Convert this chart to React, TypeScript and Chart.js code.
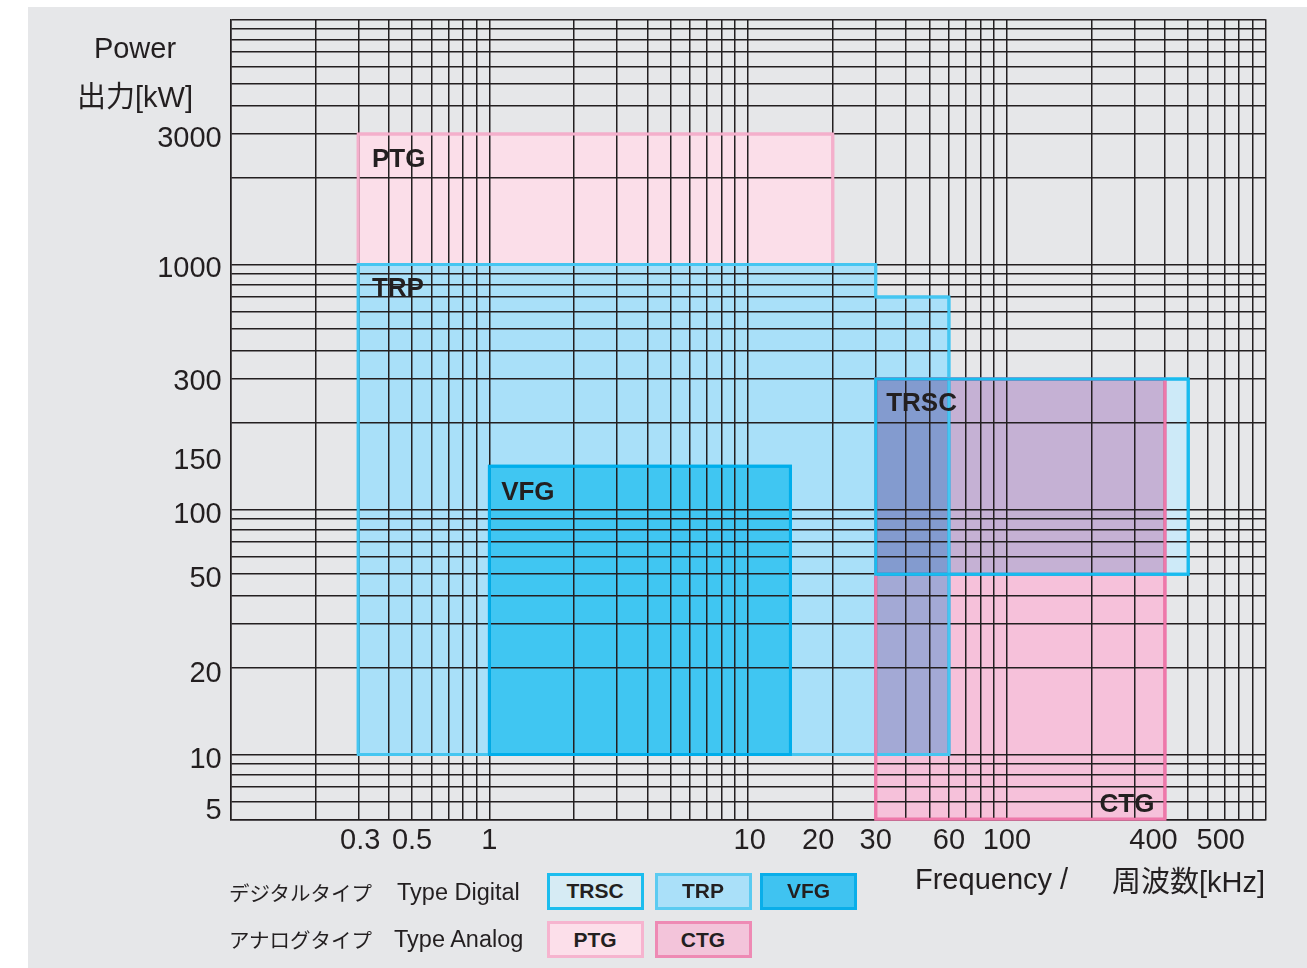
import React, { useEffect, useRef } from 'react';
import { Chart, registerables, LogarithmicScale } from 'chart.js';

// ---------------- data ----------------
const ptgFreq = [0.3, 0.3, 20, 20, 0.3];
const ptgPower = [1000, 3000, 3000, 1000, 1000];
const trpFreq = [0.3, 0.3, 30, 30, 60, 60, 0.3];
const trpPower = [10, 1000, 1000, 700, 700, 10, 10];
const vfgFreq = [1, 1, 15, 15, 1];
const vfgPower = [10, 150, 150, 10, 10];
const trscFreq = [30, 30, 500, 500, 30];
const trscPower = [50, 300, 300, 50, 50];
const ctgFreq = [30, 30, 400, 400, 30];
const ctgPower = [5, 300, 300, 5, 5];

const xTickValues = [0.3, 0.5, 1, 10, 20, 30, 60, 100, 400, 500];
const xTickLabels = ['0.3', '0.5', '1', '10', '20', '30', '60', '100', '400', '500'];
const yTickValues = [3000, 1000, 300, 150, 100, 50, 20, 10, 5];
const yTickLabels = ['3000', '1000', '300', '150', '100', '50', '20', '10', '5'];
const xMin = 0.1;
const xMax = 1000;
const yMin = 5;
const yMax = 10000;

const digitalTypes = ['TRSC', 'TRP', 'VFG'];
const analogTypes = ['PTG', 'CTG'];

// ---------------- style / layout ----------------
const FONT = '"Liberation Sans", Arial, "Noto Sans CJK JP", sans-serif';
const JP_FONT = '"Noto Sans CJK JP", "Liberation Sans", sans-serif';
const INK = '#231f20';
const BG = '#e6e7e9';
const TEXT_DY = 3; // canvas 'middle' baseline correction

// printed log-paper spacing inside one decade (positions of 1..10 as fraction of a decade)
const X_WARP = [0, 0.327, 0.493, 0.611, 0.701, 0.776, 0.841, 0.898, 0.95, 1];
const Y_WARP = [0, 0.353, 0.532, 0.648, 0.736, 0.808, 0.867, 0.916, 0.961, 1];
const WARPS: Record<string, number[]> = { x: X_WARP, y: Y_WARP };

const xLabelNudge = [2, 0, 0, 1.5, -14.5, 0, 0, 0, -11.5, 32.5];
const yLabelNudge = [2, 2, 0, -8, 2.5, 2, 2.5, 2, -11];

const COLORS: Record<string, { fill: string; border: string; legendFill: string; legendBorder: string }> = {
  PTG: { fill: '#fbdee9', border: '#f4afcb', legendFill: '#fcdfea', legendBorder: '#f6b4cf' },
  TRP: { fill: '#a9e0f9', border: '#45c6f1', legendFill: '#aae0f9', legendBorder: '#5bcbf1' },
  VFG: { fill: '#40c6f2', border: '#00aeeb', legendFill: '#3fc3f1', legendBorder: '#0aaee9' },
  TRSC: { fill: '#cdeaf8', border: '#18bcef', legendFill: '#d6ebf4', legendBorder: '#1cbdee' },
  CTG: { fill: '#f6c1da', border: '#ee78aa', legendFill: '#f3c4da', legendBorder: '#ee8ab4' },
};

function warpPos(v: number, t: number[]): number {
  if (!(v > 0)) return -Infinity;
  let e = Math.floor(Math.log10(v) + 1e-12);
  let m = v / Math.pow(10, e);
  if (m >= 10 - 1e-9) {
    e += 1;
    m /= 10;
  }
  if (m < 1) m = 1;
  const i = Math.min(8, Math.max(0, Math.floor(m + 1e-9) - 1));
  return e + t[i] + (t[i + 1] - t[i]) * (m - (i + 1));
}

function unwarp(p: number, t: number[]): number {
  const e = Math.floor(p);
  const f = p - e;
  let i = 0;
  while (i < 8 && f > t[i + 1]) i++;
  const m = i + 1 + (f - t[i]) / (t[i + 1] - t[i]);
  return m * Math.pow(10, e);
}

class PaperLogScale extends LogarithmicScale {
  static id = 'paperLog';
  static defaults = LogarithmicScale.defaults;
  getPixelForValue(value: number) {
    const t = WARPS[(this as any).id] || X_WARP;
    const a = warpPos(this.min, t);
    const b = warpPos(this.max, t);
    return this.getPixelForDecimal((warpPos(value, t) - a) / (b - a));
  }
  getValueForPixel(pixel: number) {
    const t = WARPS[(this as any).id] || X_WARP;
    const a = warpPos(this.min, t);
    const b = warpPos(this.max, t);
    return unwarp(a + this.getDecimalForPixel(pixel) * (b - a), t);
  }
}

const blendPlugin = {
  id: 'blendMode',
  beforeDatasetDraw(chart: any, args: any) {
    const ds = chart.data.datasets[args.index];
    chart.ctx.save();
    chart.ctx.globalCompositeOperation = ds.blend || 'source-over';
  },
  afterDatasetDraw(chart: any) {
    chart.ctx.restore();
  },
};

Chart.register(blendPlugin as any);
Chart.register(...registerables);
Chart.register(PaperLogScale as any);

function gridValues(min: number, max: number): number[] {
  const out: number[] = [];
  for (let e = Math.floor(Math.log10(min)); e <= Math.ceil(Math.log10(max)); e++) {
    for (let k = 1; k <= 9; k++) {
      const v = +(k * Math.pow(10, e)).toPrecision(6);
      if (v >= min * 0.9999 && v <= max * 1.0001) out.push(v);
    }
  }
  return out;
}

function makeSet(name: string, fx: number[], py: number[], order: number, blend?: string) {
  return {
    label: name,
    data: fx.map((x, i) => ({ x, y: py[i] })),
    backgroundColor: COLORS[name].fill,
    borderColor: COLORS[name].border,
    borderWidth: 3,
    borderJoinStyle: 'miter',
    borderCapStyle: 'square',
    fill: 'shape',
    pointRadius: 0,
    pointHoverRadius: 0,
    tension: 0,
    order,
    blend,
  };
}

// box label anchors: corner of each product's range
const boxLabels = [
  { name: 'PTG', fx: ptgFreq, py: ptgPower, corner: 'tl', dx: 13.7, dy: 22.7 },
  { name: 'TRP', fx: trpFreq, py: trpPower, corner: 'tl', dx: 13.7, dy: 21.7 },
  { name: 'VFG', fx: vfgFreq, py: vfgPower, corner: 'tl', dx: 11.7, dy: 24 },
  { name: 'TRSC', fx: trscFreq, py: trscPower, corner: 'tl', dx: 10.5, dy: 21.7 },
  { name: 'CTG', fx: ctgFreq, py: ctgPower, corner: 'br', dx: -10.5, dy: -17 },
];

const overlayPlugin = {
  id: 'overlay',
  afterDraw(chart: any) {
    const ctx = chart.ctx;
    const xs = chart.scales.x;
    const ys = chart.scales.y;
    const area = chart.chartArea;
    // borders on top of the grid
    const metas = chart.getSortedVisibleDatasetMetas();
    for (let i = metas.length - 1; i >= 0; i--) {
      metas[i].dataset.draw(ctx, area);
    }
    ctx.save();
    ctx.fillStyle = INK;
    ctx.textBaseline = 'middle';
    ctx.font = `29px ${FONT}`;
    ctx.textAlign = 'center';
    xTickValues.forEach((v, i) => {
      ctx.fillText(xTickLabels[i], xs.getPixelForValue(v) + xLabelNudge[i], area.bottom + 19 + TEXT_DY);
    });
    ctx.textAlign = 'right';
    yTickValues.forEach((v, i) => {
      ctx.fillText(yTickLabels[i], area.left - 9, ys.getPixelForValue(v) + yLabelNudge[i] + TEXT_DY);
    });
    ctx.font = `bold 26px ${FONT}`;
    boxLabels.forEach((b) => {
      const left = b.corner === 'tl';
      const x = left ? Math.min(...b.fx) : Math.max(...b.fx);
      const y = left ? Math.max(...b.py) : Math.min(...b.py);
      ctx.textAlign = left ? 'left' : 'right';
      ctx.fillText(b.name, xs.getPixelForValue(x) + b.dx, ys.getPixelForValue(y) + b.dy + TEXT_DY);
    });
    ctx.restore();
  },
};

function axisOptions(min: number, max: number, isX: boolean) {
  const grid = gridValues(min, max);
  return {
    type: 'paperLog',
    min,
    max,
    bounds: 'data',
    afterBuildTicks: (s: any) => {
      s.ticks = grid.map((v) => ({ value: v }));
    },
    afterFit: (s: any) => {
      if (isX) s.height = 148.7;
      else s.width = 202.7;
    },
    ticks: { display: false },
    grid: { color: INK, lineWidth: 1.5, drawTicks: false, z: 1 },
    border: { display: true, color: INK, width: 1.5, z: 1 },
  };
}

function LegendBox({ name, left, top }: { name: string; left: number; top: number }) {
  const c = COLORS[name];
  return (
    <div
      style={{
        position: 'absolute',
        left,
        top,
        width: 97,
        height: 37,
        boxSizing: 'border-box',
        border: `3px solid ${c.legendBorder}`,
        background: c.legendFill,
        display: 'flex',
        alignItems: 'center',
        justifyContent: 'center',
        font: `bold 21px ${FONT}`,
        color: INK,
      }}
    >
      {name}
    </div>
  );
}

const textBase: React.CSSProperties = {
  position: 'absolute',
  whiteSpace: 'nowrap',
  lineHeight: 1,
  color: INK,
};

export default function App() {
  const canvasRef = useRef<HTMLCanvasElement | null>(null);

  useEffect(() => {
    if (!canvasRef.current) return;
    const datasets = [
      makeSet('PTG', ptgFreq, ptgPower, 5),
      makeSet('TRP', trpFreq, trpPower, 4),
      makeSet('VFG', vfgFreq, vfgPower, 3),
      makeSet('CTG', ctgFreq, ctgPower, 2, 'multiply'),
      makeSet('TRSC', trscFreq, trscPower, 1, 'multiply'),
    ];
    const chart = new Chart(canvasRef.current, {
      type: 'line',
      data: { datasets } as any,
      options: {
        responsive: true,
        maintainAspectRatio: false,
        animation: false,
        events: [],
        layout: { padding: { left: 0, right: 41.4, top: 12.3, bottom: 0 } },
        plugins: { legend: { display: false }, tooltip: { enabled: false } },
        scales: {
          x: axisOptions(xMin, xMax, true) as any,
          y: axisOptions(yMin, yMax, false) as any,
        },
      } as any,
      plugins: [overlayPlugin as any],
    });
    return () => chart.destroy();
  }, []);

  const rowTop = [885, 932];
  const boxLefts = [518.5, 626.5, 732];
  return (
    <div
      style={{
        position: 'absolute',
        left: 28,
        top: 7,
        width: 1279,
        height: 961,
        background: BG,
        overflow: 'hidden',
        fontFamily: FONT,
      }}
    >
      <div style={{ position: 'absolute', left: 0, top: 0, width: 1279, height: 961 }}>
        <canvas ref={canvasRef} />
      </div>
      <div style={{ ...textBase, left: 107, top: 41, transform: 'translate(-50%, -50%)', font: `29px ${FONT}` }}>Power</div>
      <div style={{ ...textBase, left: 107, top: 87, transform: 'translate(-50%, -50%)', font: `29px ${FONT}` }}>
        出力[kW]
      </div>
      <div style={{ ...textBase, left: 887, top: 872, transform: 'translateY(-50%)', font: `29px ${FONT}` }}>
        Frequency /
      </div>
      <div style={{ ...textBase, right: 42, top: 872, transform: 'translateY(-50%)', font: `29px ${FONT}` }}>
        周波数[kHz]
      </div>

      <div style={{ ...textBase, left: 201, top: rowTop[0], transform: 'translateY(-50%)', font: `20.5px ${JP_FONT}` }}>
        デジタルタイプ
      </div>
      <div style={{ ...textBase, left: 369, top: rowTop[0], transform: 'translateY(-50%)', font: `23.5px ${FONT}` }}>
        Type Digital
      </div>
      <div style={{ ...textBase, left: 201, top: rowTop[1], transform: 'translateY(-50%)', font: `20.5px ${JP_FONT}` }}>
        アナログタイプ
      </div>
      <div style={{ ...textBase, left: 366, top: rowTop[1], transform: 'translateY(-50%)', font: `23.5px ${FONT}` }}>
        Type Analog
      </div>
      {digitalTypes.map((n, i) => (
        <LegendBox key={n} name={n} left={boxLefts[i]} top={865.5} />
      ))}
      {analogTypes.map((n, i) => (
        <LegendBox key={n} name={n} left={boxLefts[i]} top={914} />
      ))}
    </div>
  );
}
